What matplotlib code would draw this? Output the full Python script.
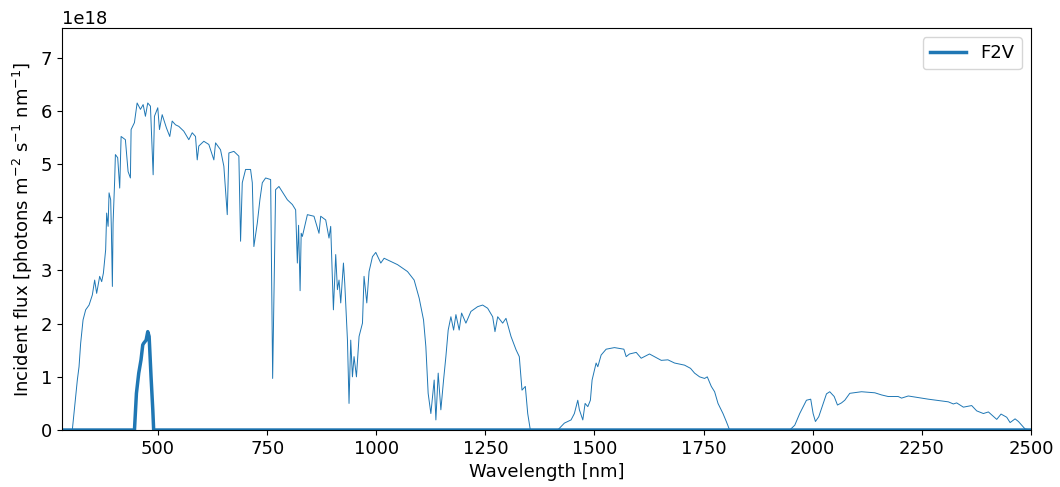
import numpy as np
import matplotlib
matplotlib.use('Agg')
import matplotlib.pyplot as plt

# Incident solar photon flux, units of 1e18
wavelength = [280, 303.6, 315.1, 319, 322.7, 328.2, 334.2, 342, 349.5, 354.8, 359.4, 366.3, 370.9,
              374.8, 380, 382.3, 385.6, 387.8, 391.5, 393.1, 395.4, 397, 400.7, 402.3, 407.6, 412.2,
              415.4, 425.2, 431.4, 436.7, 438.3, 445.9, 452.1, 459.7, 465.9, 471.1, 476.4, 482.6,
              488.8, 491.8, 499.4, 503.3, 509.5, 519.3, 526.9, 532.4, 540, 547.6, 559, 570.5, 578.3,
              585.9, 589.8, 593.4, 604.9, 616.4, 627.9, 631.8, 643.2, 650.8, 658.6, 662.3, 673.8,
              685.2, 689.1, 693, 700.6, 712, 716, 719.6, 727.4, 733.4, 738.9, 746.5, 758, 762.6,
              769.4, 777, 788.5, 796.3, 807.8, 815.3, 819.2, 822, 825.5, 828, 830.7, 842.2, 857.3,
              868.8, 872.7, 884.2, 891.7, 895.6, 901.8, 907.1, 911, 914.7, 918.6, 924.8, 927.8, 934,
              937.6, 941.5, 945.4, 949.1, 954.6, 960.6, 968.4, 972, 978.3, 983.5, 991.3, 998.9,
              1010.4, 1018, 1048.7, 1071.6, 1086.8, 1098.3, 1108.3, 1113.6, 1118.9, 1125.1, 1132.7,
              1136.6, 1141.9, 1148, 1154.2, 1159.5, 1164.8, 1171, 1177.2, 1182.5, 1190, 1195.5,
              1205.4, 1216.9, 1232.3, 1243.7, 1255.2, 1266.7, 1272, 1278.2, 1289.6, 1297.2, 1308.7,
              1320.2, 1327.7, 1333.9, 1341.5, 1347, 1353, 1415.8, 1431, 1446.3, 1453.9, 1461.7,
              1465.4, 1473.2, 1478.5, 1484.7, 1490.6, 1494.5, 1503.7, 1507.6, 1515.2, 1526.7,
              1545.7, 1567.3, 1572.6, 1580.2, 1595.6, 1607, 1626, 1653, 1668.2, 1683.4, 1706.3,
              1720, 1729.3, 1740.8, 1752.2, 1758.4, 1767.6, 1775.2, 1783, 1794.4, 1802, 1809.6,
              1947.3, 1958.8, 1970.2, 1985.6, 1995.4, 2000.9, 2006.2, 2013.8, 2021.6, 2031.5, 2039,
              2049.2, 2056.7, 2065.9, 2073.4, 2084.9, 2111.8, 2142.3, 2157.6, 2172.9, 2195.9,
              2203.5, 2218.9, 2264.8, 2310.7, 2322.2, 2329.8, 2345.2, 2364.2, 2375.7, 2391, 2402.5,
              2421.6, 2431.5, 2444.5, 2452.2, 2463.6, 2471.3, 2486.5, 2500]
flux = [0, 0, 0.94, 1.19, 1.63, 2.07, 2.26, 2.35, 2.54, 2.82, 2.57, 2.89, 2.79,
        2.95, 3.39, 4.08, 3.83, 4.46, 4.33, 3.77, 2.70, 3.89, 4.71, 5.18, 5.12, 4.55,
        5.52, 5.46, 4.86, 4.74, 5.65, 5.78, 6.15, 6.03, 6.12, 5.90, 6.15, 6.09,
        4.80, 5.90, 6.06, 5.65, 5.93, 5.68, 5.52, 5.81, 5.74, 5.71, 5.62, 5.46, 5.59,
        5.52, 5.08, 5.34, 5.43, 5.37, 5.08, 5.40, 5.27, 4.96, 4.05, 5.21, 5.24,
        5.15, 3.55, 4.65, 4.90, 4.90, 4.65, 3.45, 3.89, 4.33, 4.65, 4.74, 4.71, 0.97,
        4.52, 4.58, 4.43, 4.33, 4.24, 4.14, 3.14, 3.85, 2.62, 3.70, 3.64, 4.05, 4.02,
        3.70, 4.02, 3.95, 3.61, 3.83, 2.26, 3.30, 2.64, 2.82, 2.39, 3.14, 2.76, 1.69,
        0.50, 1.69, 1.00, 1.38, 1.00, 1.76, 2.01, 2.89, 2.39, 2.98, 3.26, 3.34,
        3.14, 3.23, 3.11, 2.98, 2.82, 2.48, 2.07, 1.57, 0.69, 0.31, 0.94,
        0.19, 1.07, 0.38, 0.94, 1.38, 1.88, 2.13, 1.88, 2.17, 1.88, 2.20,
        2.01, 2.23, 2.32, 2.35, 2.29, 2.13, 1.85, 2.13, 2.01, 2.10, 1.76,
        1.51, 1.38, 0.75, 0.82, 0.31, 0, 0, 0.13, 0.19, 0.31, 0.56,
        0.38, 0.19, 0.50, 0.44, 0.56, 0.94, 1.26, 1.19, 1.41, 1.52,
        1.55, 1.52, 1.38, 1.43, 1.46, 1.35, 1.43, 1.31, 1.32, 1.26, 1.22,
        1.16, 1.07, 1.00, 0.97, 1.00, 0.82, 0.72, 0.50, 0.31, 0.16, 0,
        0, 0.09, 0.31, 0.56, 0.58, 0.31, 0.16, 0.25, 0.44, 0.68, 0.72,
        0.63, 0.47, 0.51, 0.56, 0.69, 0.72, 0.70, 0.66, 0.63, 0.63,
        0.60, 0.64, 0.58, 0.53, 0.49, 0.51, 0.43, 0.46, 0.36, 0.31, 0.34,
        0.20, 0.30, 0.24, 0.14, 0.21, 0.16, 0.02, 0]

# F2V band (only non-zero around 450-490 nm)
f2v_wavelength = [280, 446, 450.5, 455.8, 461, 465, 467, 472.7, 476.5, 479.6, 484, 488, 490, 2500]
f2v_flux = [0, 0, 0.69, 1.07, 1.32, 1.60, 1.63, 1.69, 1.85, 1.76, 1.00, 0.38, 0, 0]

plt.rcParams['font.size'] = 13

fig = plt.figure(figsize=(10.6, 4.87), dpi=100)
ax = fig.add_subplot(111)
fig.subplots_adjust(left=0.0585, right=0.9726, top=0.9425, bottom=0.117)

ax.plot(wavelength, np.array(flux) * 1e18, color='C0', lw=0.7)
ax.plot(f2v_wavelength, np.array(f2v_flux) * 1e18, color='C0', lw=2.5, label='F2V')

ax.set_xlim(280, 2500)
ax.set_ylim(0, 7.56e18)
ax.set_xticks([500, 750, 1000, 1250, 1500, 1750, 2000, 2250, 2500])
ax.set_xlabel('Wavelength [nm]')
ax.set_ylabel('Incident flux [photons m$^{-2}$ s$^{-1}$ nm$^{-1}$]')
ax.legend(loc='upper right')

fig.savefig('out.png', dpi=100)
